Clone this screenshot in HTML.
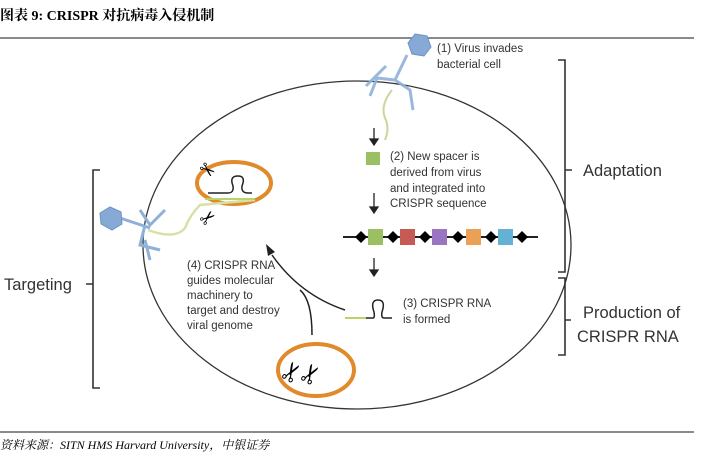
<!DOCTYPE html>
<html><head><meta charset="utf-8"><style>
html,body{margin:0;padding:0;background:#fff;width:714px;height:471px;overflow:hidden}
svg text{font-family:"Liberation Sans","DejaVu Sans",sans-serif;fill:#333}
</style></head><body>
<svg width="714" height="471" viewBox="0 0 714 471" xmlns="http://www.w3.org/2000/svg">
<text x="0" y="20" style="font-family:'Liberation Serif','Noto Serif CJK SC',serif;font-weight:bold;font-size:14px;fill:#000">图表 9:  CRISPR 对抗病毒入侵机制</text>
<line x1="0" y1="38" x2="694" y2="38" stroke="#444" stroke-width="1.2"/>
<line x1="0" y1="432" x2="694" y2="432" stroke="#444" stroke-width="1.2"/>
<text x="0" y="449" style="font-family:'Liberation Serif','Noto Serif CJK SC',serif;font-style:italic;font-size:12px;fill:#000">资料来源：SITN HMS Harvard University，中银证券</text>

<ellipse cx="357" cy="245" rx="214" ry="164" fill="none" stroke="#333" stroke-width="1.3"/>

<path d="M558 60 H565 V272 H558 M565 170 H572" fill="none" stroke="#333" stroke-width="1.6"/>
<path d="M558 278 H565 V355 H558 M565 320 H571" fill="none" stroke="#333" stroke-width="1.6"/>
<path d="M100 170 H93 V388 H100 M93 284 H86" fill="none" stroke="#333" stroke-width="1.6"/>
<text x="583" y="176" font-size="16.5">Adaptation</text>
<text x="583" y="318" font-size="16.5">Production of</text>
<text x="577" y="342" font-size="16.5">CRISPR RNA</text>
<text x="4" y="290" font-size="16.5">Targeting</text>

<g stroke="#8fb0d8" stroke-width="3" fill="none" opacity="0.9">
<path d="M407 55 L395 80 M395 80 L377 78 L370 96 M395 80 L410 90 L413 110 M386 66 L366 86"/>
</g>
<polygon points="415,34 427,36 431,47 424,56 412,54 408,43" fill="#86a9d6" stroke="#6d93c4"/>
<path d="M392 90 Q380 105 385 118 Q390 128 385 140" stroke="#c9d89a" stroke-width="2" fill="none"/>
<text x="437" y="52" font-size="11.5">(1) Virus invades</text>
<text x="437" y="68" font-size="11.5">bacterial cell</text>

<g stroke="#222" stroke-width="1.3" fill="#222">
<line x1="374" y1="128" x2="374" y2="140"/><polygon points="370,139 378,139 374,145"/>
<line x1="374" y1="193" x2="374" y2="208"/><polygon points="370,207 378,207 374,213"/>
<line x1="374" y1="258" x2="374" y2="271"/><polygon points="370,270 378,270 374,276"/>
</g>
<rect x="366" y="152" width="14" height="13" fill="#9bbf63"/>
<text x="390" y="160" font-size="11.5">(2) New spacer is</text>
<text x="390" y="176" font-size="11.5">derived from virus</text>
<text x="390" y="192" font-size="11.5">and integrated into</text>
<text x="390" y="207" font-size="11.5">CRISPR sequence</text>

<line x1="343" y1="237" x2="538" y2="237" stroke="#222" stroke-width="2"/>
<rect x="368" y="229" width="15" height="16" fill="#9bbf63"/>
<rect x="400" y="229" width="15" height="16" fill="#c85a55"/>
<rect x="432" y="229" width="15" height="16" fill="#9a76c2"/>
<rect x="466" y="229" width="15" height="16" fill="#eaa156"/>
<rect x="498" y="229" width="15" height="16" fill="#63b2d4"/>
<g fill="#000">
<polygon points="361,231 367,237 361,243 355,237"/>
<polygon points="393,231 399,237 393,243 387,237"/>
<polygon points="425,231 431,237 425,243 419,237"/>
<polygon points="458,231 464,237 458,243 452,237"/>
<polygon points="491,231 497,237 491,243 485,237"/>
<polygon points="522,231 528,237 522,243 516,237"/>
</g>

<line x1="345" y1="318" x2="366" y2="318" stroke="#b9d36a" stroke-width="2"/>
<path d="M366 318 H373 Q375 318 374 312 Q370 300 378 300 Q386 300 382 312 Q381 318 384 318 H392" fill="none" stroke="#222" stroke-width="1.5"/>
<text x="403" y="307" font-size="11.5">(3) CRISPR RNA</text>
<text x="403" y="323" font-size="11.5">is formed</text>

<path d="M345 310 Q300 295 272 255" fill="none" stroke="#222" stroke-width="1.5"/>
<polygon points="266,244 275,252 268,256" fill="#222"/>
<path d="M312 335 Q312 300 300 290" fill="none" stroke="#222" stroke-width="1.5"/>

<text x="187" y="269" font-size="11.5">(4) CRISPR RNA</text>
<text x="187" y="284" font-size="11.5">guides molecular</text>
<text x="187" y="299" font-size="11.5">machinery to</text>
<text x="187" y="314" font-size="11.5">target and destroy</text>
<text x="187" y="329" font-size="11.5">viral genome</text>

<ellipse cx="316" cy="370" rx="38" ry="26" fill="none" stroke="#e08a2c" stroke-width="4"/>
<text x="0" y="0" transform="translate(294,386) rotate(-60)" font-size="26" style="fill:#000">✂</text>
<text x="0" y="0" transform="translate(313,388) rotate(-60)" font-size="26" style="fill:#000">✂</text>

<ellipse cx="234" cy="183" rx="37" ry="21" fill="none" stroke="#e08a2c" stroke-width="4"/>
<path d="M148 230 Q175 240 185 228 Q190 215 200 205 L255 200" fill="none" stroke="#d8e0a8" stroke-width="2.5"/>
<line x1="205" y1="199" x2="255" y2="199" stroke="#b9d36a" stroke-width="2"/>
<line x1="208" y1="193" x2="228" y2="193" stroke="#222" stroke-width="1.5"/>
<path d="M228 193 Q234 193 233 186 Q229 176 238 176 Q246 176 242 186 Q241 193 248 193 H252" fill="none" stroke="#222" stroke-width="1.5"/>
<text x="0" y="0" transform="translate(197,170) rotate(40)" font-size="19" style="fill:#000">✂</text>
<text x="0" y="0" transform="translate(206,228) rotate(-40)" font-size="19" style="fill:#000">✂</text>
<g stroke="#8fb0d8" stroke-width="3" fill="none">
<path d="M120 218 L150 228 M140 210 L150 225 L165 210 M145 225 L140 245 L160 250 M145 240 L150 260"/>
</g>
<polygon points="100,213 110,207 121,212 122,224 112,230 101,224" fill="#86a9d6" stroke="#6d93c4"/>
</svg>
</body></html>
